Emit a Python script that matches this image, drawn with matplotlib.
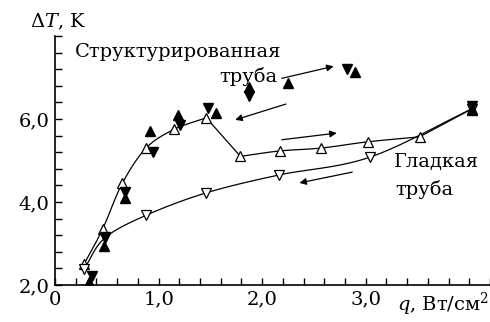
import numpy as np
import matplotlib
matplotlib.use("Agg")
import matplotlib.pyplot as plt

plt.rcParams['font.family'] = ['DejaVu Serif']
plt.rcParams['mathtext.fontset'] = 'custom'
plt.rcParams['mathtext.rm'] = 'DejaVu Serif'
plt.rcParams['mathtext.it'] = 'DejaVu Serif:italic'

# structured tube, heat flux increasing (open up-triangles)
q_up = [0.28, 0.46, 0.65, 0.88, 1.15, 1.46, 1.79, 2.17, 2.57, 3.02, 3.52, 4.03]
dT_up = [2.50, 3.35, 4.45, 5.30, 5.75, 6.03, 5.10, 5.23, 5.30, 5.45, 5.57, 6.25]

# heat flux decreasing (open down-triangles)
q_down = [4.03, 3.04, 2.16, 1.46, 0.88, 0.48, 0.28]
dT_down = [6.25, 5.08, 4.65, 4.22, 3.68, 3.13, 2.38]

# repeated runs, filled markers
q_fup = [0.33, 0.47, 0.68, 0.92, 1.19, 1.55, 1.87, 2.25, 2.90, 4.03]
dT_fup = [2.07, 2.95, 4.10, 5.72, 6.10, 6.15, 6.77, 6.87, 7.13, 6.22]
q_fdn = [4.03, 2.82, 1.87, 1.48, 1.21, 0.95, 0.68, 0.48, 0.36]
dT_fdn = [6.32, 7.20, 6.55, 6.27, 5.85, 5.20, 4.24, 3.16, 2.22]


def smooth(x, y, n=20):
    # Catmull-Rom curve through the given points
    x = np.asarray(x, float)
    y = np.asarray(y, float)
    px = np.concatenate([[2*x[0]-x[1]], x, [2*x[-1]-x[-2]]])
    py = np.concatenate([[2*y[0]-y[1]], y, [2*y[-1]-y[-2]]])
    t = np.linspace(0, 1, n)
    xs, ys = [], []
    for i in range(1, len(px)-2):
        for p, out in ((px, xs), (py, ys)):
            p0, p1, p2, p3 = p[i-1], p[i], p[i+1], p[i+2]
            out.extend(0.5*((2*p1) + (-p0+p2)*t + (2*p0-5*p1+4*p2-p3)*t**2
                            + (-p0+3*p1-3*p2+p3)*t**3))
    return np.array(xs), np.array(ys)


fig = plt.figure(figsize=(4.9, 3.22), dpi=100)
ax = fig.add_axes([55/490, 37/322, 435/490, 249/322])

lw = 0.9
# rising branch: smooth up to the peak, straight drop, smooth plateau
sx, sy = smooth(q_up[:6], dT_up[:6])
ax.plot(sx, sy, 'k-', lw=lw)
ax.plot(q_up[5:7], dT_up[5:7], 'k-', lw=lw)
sx, sy = smooth(q_up[6:11], dT_up[6:11])
ax.plot(sx, sy, 'k-', lw=lw)
ax.plot(q_up[10:], dT_up[10:], 'k-', lw=lw)

sx, sy = smooth(q_down, dT_down)
ax.plot(sx, sy, 'k-', lw=lw)

ms = 7
ax.plot(q_up, dT_up, ls='none', marker='^', ms=ms, mfc='white', mec='k', mew=0.9)
ax.plot(q_down, dT_down, ls='none', marker='v', ms=ms, mfc='white', mec='k', mew=0.9)
ax.plot(q_fup, dT_fup, ls='none', marker='^', ms=ms, mfc='k', mec='k')
ax.plot(q_fdn, dT_fdn, ls='none', marker='v', ms=ms, mfc='k', mec='k')

# direction arrows
arrows = [((2.19, 6.98), (2.69, 7.27)),
          ((2.23, 6.36), (1.74, 5.98)),
          ((2.19, 5.50), (2.72, 5.66)),
          ((2.87, 4.72), (2.36, 4.46))]
for start, end in arrows:
    ax.annotate('', xy=end, xytext=start,
                arrowprops=dict(arrowstyle='-|>', color='k', lw=0.9,
                                mutation_scale=10, shrinkA=0, shrinkB=0))

fs = 14
ax.text(0.19, 7.61, 'Структурированная', fontsize=fs, ha='left', va='center')
ax.text(1.87, 7.02, 'труба', fontsize=fs, ha='center', va='center')
ax.text(3.68, 4.97, 'Гладкая', fontsize=fs, ha='center', va='center')
ax.text(3.57, 4.30, 'труба', fontsize=fs, ha='center', va='center')

ax.set_xlim(0, 4.2)
ax.set_ylim(2, 8)
xt = np.arange(0, 4.21, 0.2)
ax.set_xticks(xt)
ax.set_xticklabels(['0' if abs(v) < 1e-9 else ('%.1f' % v).replace('.', ',')
                    if abs(v - round(v)) < 1e-9 and v < 3.5 else ''
                    for v in xt])
yt = np.arange(2, 8.01, 0.4)
ax.set_yticks(yt)
ax.set_yticklabels([('%.1f' % v).replace('.', ',') if abs(v - round(v)) < 1e-9
                    and int(round(v)) in (2, 4, 6) else '' for v in yt])
ax.tick_params(direction='in', length=5, width=1, labelsize=fs, pad=4)
for s in ('top', 'right'):
    ax.spines[s].set_visible(False)
for s in ('left', 'bottom'):
    ax.spines[s].set_linewidth(1.2)

fig.text(30/490, 1-22/322, r'$\Delta T$, K', fontsize=fs, ha='left', va='center')
fig.text(489/490, 1-304/322, r'$q$, Вт/см$^2$', fontsize=fs, ha='right', va='center')

fig.savefig('out.png', dpi=100)
